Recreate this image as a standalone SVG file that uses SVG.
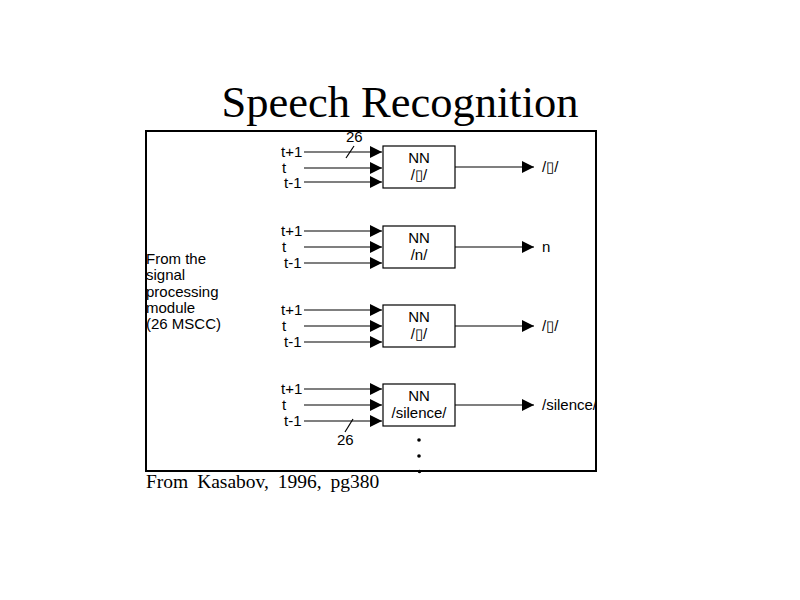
<svg xmlns="http://www.w3.org/2000/svg" width="800" height="600" viewBox="0 0 800 600">
<defs>
<marker id="ah" viewBox="0 0 12 12" refX="12" refY="6" markerWidth="12" markerHeight="12" markerUnits="userSpaceOnUse" orient="auto">
<path d="M0,0 L12,6 L0,12 Z" fill="#000"/>
</marker>
<clipPath id="frame"><rect x="146" y="131" width="450" height="340"/></clipPath>
</defs>
<style>
.s{font-family:"Liberation Sans",Arial,sans-serif;font-size:15px;fill:#000}
.m{text-anchor:middle}
.ln{stroke:#000;stroke-width:1.2;fill:none}
.box{fill:#fff;stroke:#000;stroke-width:1.2}
.serif{font-family:"Liberation Serif","Times New Roman",serif;fill:#000}
</style>
<rect width="800" height="600" fill="#fff"/>
<text class="serif" x="400" y="117" font-size="44.5" text-anchor="middle">Speech Recognition</text>
<rect x="146" y="131" width="450" height="340" fill="none" stroke="#000" stroke-width="2"/>
<g id="source">
<text class="s" x="146" y="264">From the</text>
<text class="s" x="146" y="280">signal</text>
<text class="s" x="146" y="297">processing</text>
<text class="s" x="146" y="313">module</text>
<text class="s" x="146" y="329">(26 MSCC)</text>
</g>
<g id="connectors">
<g class="ln" marker-end="url(#ah)">
<line x1="304" y1="152" x2="382" y2="152"/>
<line x1="304" y1="168" x2="382" y2="168"/>
<line x1="304" y1="182" x2="382" y2="182"/>
<line x1="455" y1="167" x2="534" y2="167"/>
<line x1="304" y1="231" x2="382" y2="231"/>
<line x1="304" y1="247" x2="382" y2="247"/>
<line x1="304" y1="263" x2="382" y2="263"/>
<line x1="455" y1="247" x2="534" y2="247"/>
<line x1="304" y1="310" x2="382" y2="310"/>
<line x1="304" y1="326" x2="382" y2="326"/>
<line x1="304" y1="342" x2="382" y2="342"/>
<line x1="455" y1="326" x2="534" y2="326"/>
<line x1="304" y1="389" x2="382" y2="389"/>
<line x1="304" y1="405" x2="382" y2="405"/>
<line x1="304" y1="421" x2="382" y2="421"/>
<line x1="455" y1="405" x2="534" y2="405"/>
</g>
<line class="ln" x1="346" y1="158" x2="354" y2="146" stroke-width="0.8"/>
<line class="ln" x1="345" y1="432" x2="353" y2="419" stroke-width="0.8"/>
<text class="s" x="346" y="142">26</text>
<text class="s" x="337" y="445">26</text>
</g>
<g id="nn1">
<rect class="box" x="383" y="146" width="72" height="42"/>
<text class="s m" x="419" y="163">NN</text>
<text class="s m" x="419" y="180">/▯/</text>
<text class="s" x="281" y="157">t+1</text>
<text class="s" x="282" y="173">t</text>
<text class="s" x="284" y="188">t-1</text>
<text class="s" x="542" y="172">/▯/</text>
</g>
<g id="nn2">
<rect class="box" x="383" y="226" width="72" height="42"/>
<text class="s m" x="419" y="243">NN</text>
<text class="s m" x="419" y="260">/n/</text>
<text class="s" x="281" y="236">t+1</text>
<text class="s" x="282" y="252">t</text>
<text class="s" x="284" y="268">t-1</text>
<text class="s" x="542" y="252">n</text>
</g>
<g id="nn3">
<rect class="box" x="383" y="305" width="72" height="42"/>
<text class="s m" x="419" y="322">NN</text>
<text class="s m" x="419" y="339">/▯/</text>
<text class="s" x="281" y="315">t+1</text>
<text class="s" x="282" y="331">t</text>
<text class="s" x="284" y="347">t-1</text>
<text class="s" x="542" y="331">/▯/</text>
</g>
<g id="nn4">
<rect class="box" x="383" y="384" width="72" height="42"/>
<text class="s m" x="419" y="401">NN</text>
<text class="s m" x="419" y="418">/silence/</text>
<text class="s" x="281" y="394">t+1</text>
<text class="s" x="282" y="410">t</text>
<text class="s" x="284" y="426">t-1</text>
<text class="s" x="542" y="410" clip-path="url(#frame)">/silence/</text>
</g>
<g id="more">
<circle cx="419" cy="440" r="1.8" fill="#000"/>
<circle cx="419" cy="456" r="1.8" fill="#000"/>
<circle cx="419.5" cy="471.5" r="1.8" fill="#000"/>
</g>
<text class="serif" x="146" y="488" font-size="19.5" word-spacing="4">From Kasabov, 1996, pg380</text>
</svg>
